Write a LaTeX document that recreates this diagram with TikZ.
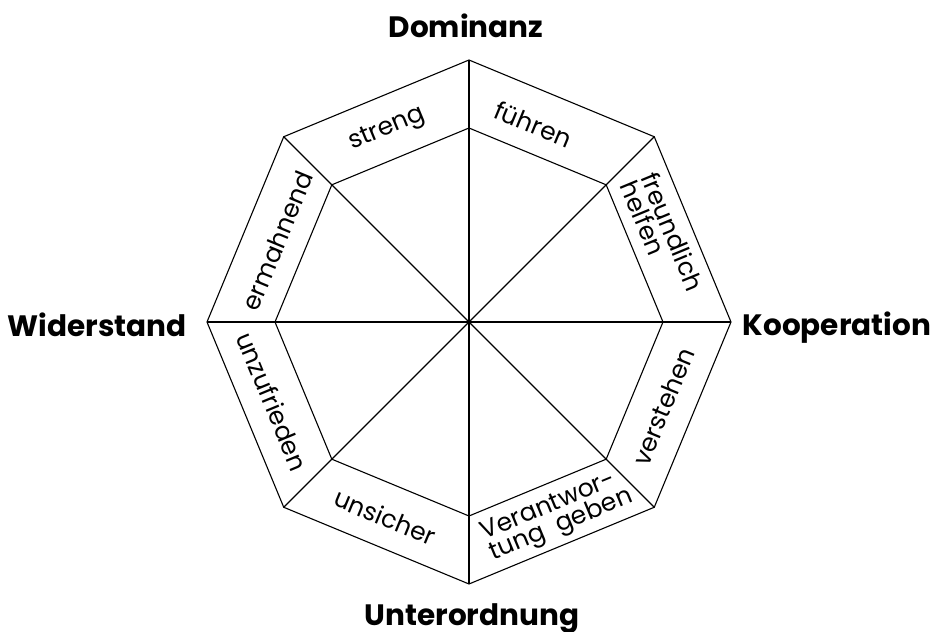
\documentclass[tikz,border=0pt]{standalone}
\usepackage{fontspec}
\setmainfont{Poppins}

\begin{document}
\begin{tikzpicture}[
  x=1pt, y=1pt,
  pole/.style={font=\fontsize{29.5}{32}\selectfont\bfseries, inner sep=0pt},
  band/.style={font=\fontsize{25}{22}\selectfont, inner sep=0pt},
  rim/.style={line width=1.1pt, line join=miter}
]
  \useasboundingbox (-469,-310) rectangle (466,322);
  % outer octagon
  \coordinate (c) at (0,0);
  \coordinate (oN) at (90:262);
  \coordinate (oNE) at (45:262);
  \coordinate (oE) at (0:262);
  \coordinate (oSE) at (-45:262);
  \coordinate (oS) at (-90:262);
  \coordinate (oSW) at (-135:262);
  \coordinate (oW) at (180:262);
  \coordinate (oNW) at (135:262);
  % inner octagon
  \coordinate (iN) at (90:194);
  \coordinate (iNE) at (45:194);
  \coordinate (iE) at (0:194);
  \coordinate (iSE) at (-45:194);
  \coordinate (iS) at (-90:194);
  \coordinate (iSW) at (-135:194);
  \coordinate (iW) at (180:194);
  \coordinate (iNW) at (135:194);
  \draw[rim] (oN) -- (oNE) -- (oE) -- (oSE) -- (oS) -- (oSW) -- (oW) -- (oNW) -- cycle;
  \draw[rim] (iN) -- (iNE) -- (iE) -- (iSE) -- (iS) -- (iSW) -- (iW) -- (iNW) -- cycle;
  % spokes
  \draw[rim] (oN) -- (oS);
  \draw[rim] (oE) -- (oW);
  \draw[rim] (oNE) -- (oSW);
  \draw[rim] (oNW) -- (oSE);

  % poles
  \node[pole] (dom) at (-3,296) {Dominanz};
  \node[pole, anchor=base] (unt) at (3,-303) {Unterordnung};
  \node[pole, anchor=base] (wid) at (-372,-15) {Widerstand};
  \node[pole, anchor=base] (koop) at (368,-13) {Kooperation};

  % band labels
  \node[band, rotate=22.5] (streng) at (113:209) {streng};
  \node[band, rotate=-22.5] (fuehren) at (72:208) {führen};
  \node[band, rotate=-67.5, align=left] (freund) at (24:212) {freundlich\\helfen};
  \node[band, rotate=67.5] (verst) at (336.5:212) {verstehen};
  \node[band, rotate=22.5, align=left] (verant) at (294.5:213) {Verantwor-\\tung\ \ geben};
  \node[band, rotate=-22.5] (unsich) at (246.7:212) {unsicher};
  \node[band, rotate=-67.5] (unzuf) at (202:212) {unzufrieden};
  \node[band, rotate=67.5] (ermahn) at (157:208) {ermahnend};
\end{tikzpicture}
\end{document}
